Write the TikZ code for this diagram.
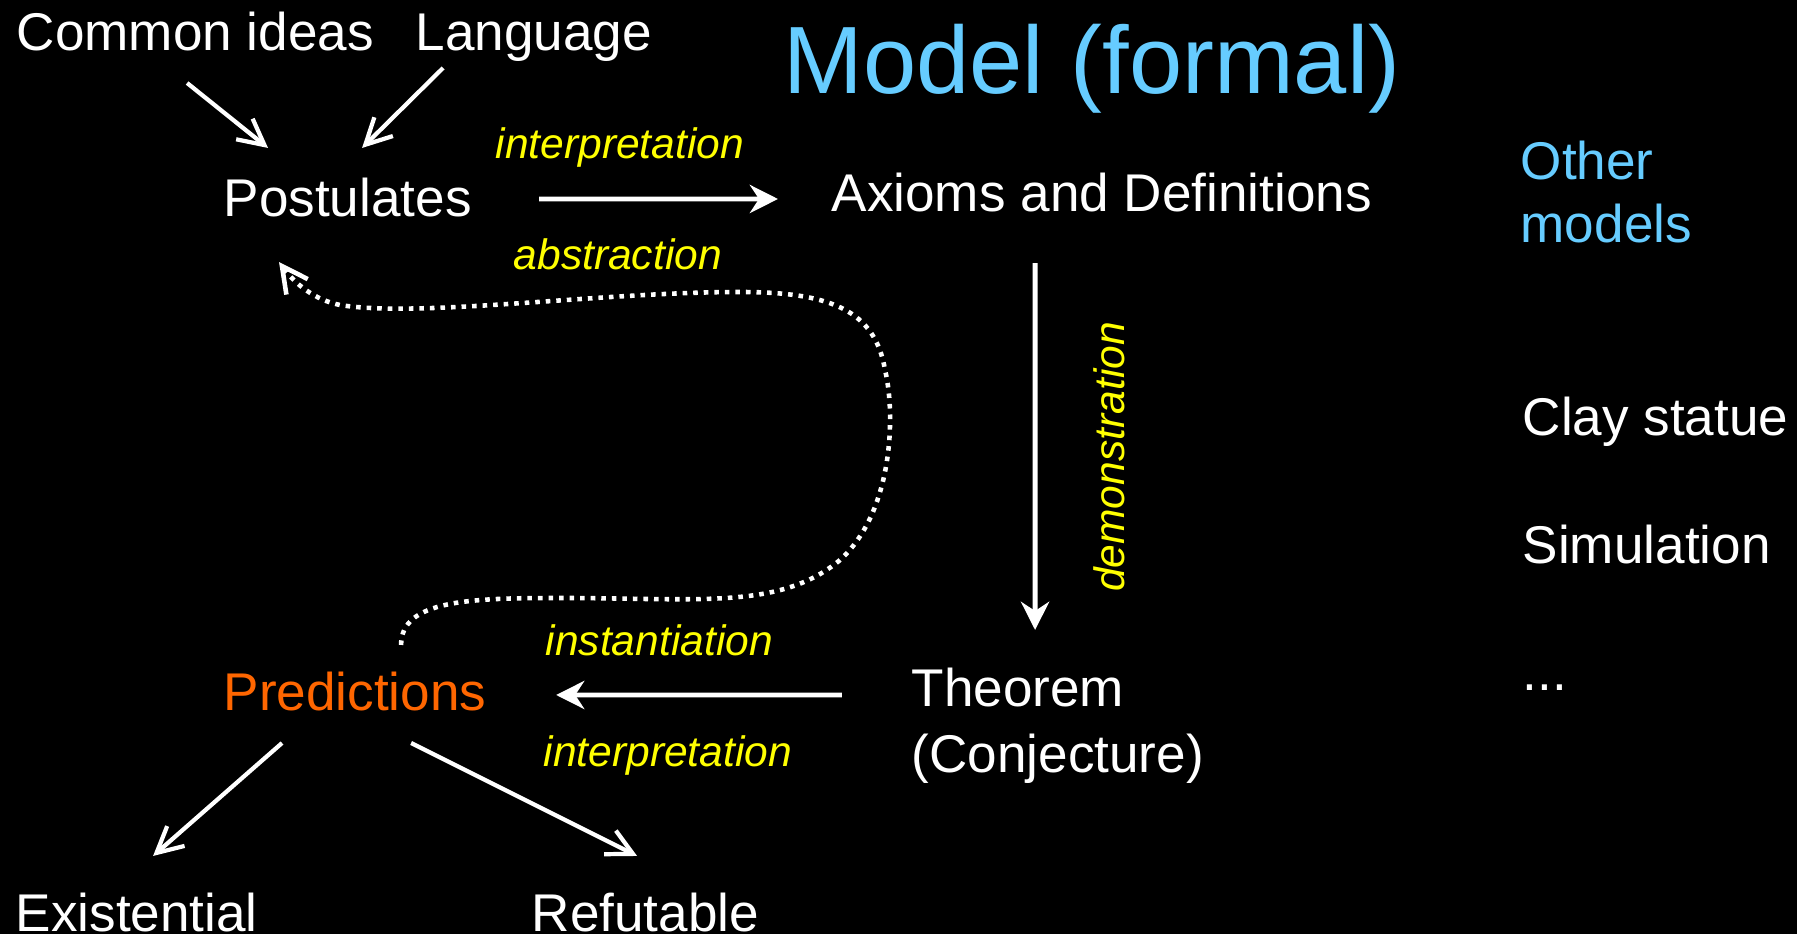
\documentclass[tikz,border=0pt]{standalone}
\usepackage{fontspec}
\setmainfont{Liberation Sans}
\usepackage{tikz}
\usetikzlibrary{arrows.meta,positioning}
\definecolor{LabelYellow}{HTML}{FFFF00}
\definecolor{ModelBlue}{HTML}{66CCFF}
\definecolor{PredOrange}{HTML}{FF6600}

\begin{document}
\begin{tikzpicture}[
    x=0.01cm,y=-0.01cm,
    txt/.style={text=white,inner sep=0pt,anchor=base west,font=\fontsize{15.1}{18}\selectfont},
    lbl/.style={txt,text=LabelYellow,font=\fontsize{12.1}{14}\selectfont\itshape},
    arr/.style={-{Stealth[length=8pt,width=8pt,inset=2.6pt]},line width=1.4pt,draw=white},
    barb/.style={-{Straight Barb[length=7.3pt,width=7.5pt]},line width=1.2pt,draw=white},
    dotline/.style={barb,line width=1.3pt,dash pattern=on 1.3pt off 1.7pt}
  ]
    \fill[black] (0,0) rectangle (1797,934);
    \useasboundingbox (0,0) rectangle (1797,934);

    % formal model
    \node[txt] (com) at (16,51) {Common ideas};
    \node[txt] (lang) at (415,51) {Language};
    \node[txt,text=ModelBlue,font=\fontsize{27.2}{32}\selectfont] (title) at (783,94) {Model (formal)};
    \node[txt] (post) at (223,217) {Postulates};
    \node[txt] (axioms) at (831,212) {Axioms and Definitions};
    \node[txt] (thm) at (911,707) {Theorem};
    \node[txt] (conj) at (911,772) {(Conjecture)};
    \node[txt,text=PredOrange] (pred) at (223,711) {Predictions};
    \node[txt] (exi) at (15,931) {Existential};
    \node[txt] (ref) at (531,931) {Refutable};

    % labels on the arrows
    \node[lbl] (lint1) at (495,159) {interpretation};
    \node[lbl] (labs) at (513,270) {abstraction};
    \node[lbl,anchor=center,rotate=90] (ldem) at (1109,457) {demonstration};
    \node[lbl] (linst) at (545,656) {instantiation};
    \node[lbl] (lint2) at (543,766) {interpretation};

    % other models
    \node[txt,text=ModelBlue] (oth1) at (1520,180) {Other};
    \node[txt,text=ModelBlue] (oth2) at (1520,243) {models};
    \node[txt] (clay) at (1522,436) {Clay statue};
    \node[txt] (sim) at (1522,564) {Simulation};
    \node[txt] (etc) at (1522,691) {...};

    \draw[barb] ([xshift=1.71cm,yshift=-0.32cm]com.base west) -- ([xshift=0.45cm,yshift=0.69cm]post.base west);
    \draw[barb] ([xshift=0.28cm,yshift=-0.17cm]lang.base west) -- ([xshift=1.39cm,yshift=0.69cm]post.base west);
    \draw[arr] ([xshift=3.16cm,yshift=0.18cm]post.base west) -- ([xshift=-0.53cm,yshift=0.13cm]axioms.base west);
    \draw[arr] ([xshift=2.04cm,yshift=-0.51cm]axioms.base west) -- ([xshift=1.24cm,yshift=0.77cm]thm.base west);
    \draw[arr] ([xshift=-0.69cm,yshift=0.12cm]thm.base west) -- ([xshift=3.33cm,yshift=0.16cm]pred.base west);
    \draw[barb] ([xshift=0.59cm,yshift=-0.32cm]pred.base west) -- ([xshift=1.38cm,yshift=0.75cm]exi.base west);
    \draw[barb] ([xshift=1.88cm,yshift=-0.32cm]pred.base west) -- ([xshift=1.06cm,yshift=0.75cm]ref.base west);
    \draw[dotline] ([xshift=1.78cm,yshift=0.66cm]pred.base west)
      .. controls (401,600) and (470,598) .. (560,598)
      .. controls (700,598) and (780,610) .. (840,560)
      .. controls (895,510) and (895,410) .. (885,370)
      .. controls (875,310) and (830,292) .. (740,292)
      .. controls (600,292) and (420,318) .. (340,305)
      .. controls (315,300) and (295,284) .. ([xshift=0.56cm,yshift=-0.45cm]post.base west);
\end{tikzpicture}
\end{document}
